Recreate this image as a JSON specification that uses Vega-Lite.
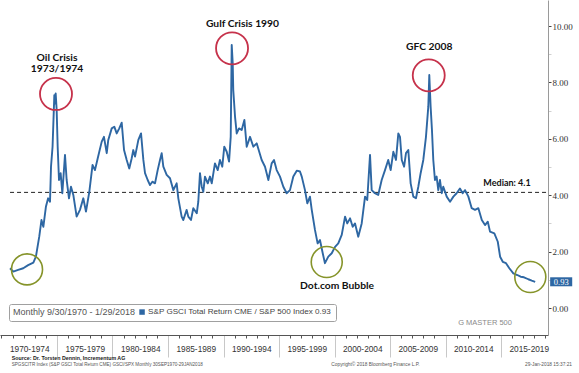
{
  "$schema": "https://vega.github.io/schema/vega-lite/v6.json",
  "width": 548,
  "height": 335,
  "autosize": {"type": "none"},
  "padding": {"left": 0, "top": 0, "right": 31, "bottom": 38},
  "background": "#ffffff",
  "config": {"view": {"stroke": null}, "font": "Liberation Sans"},
  "datasets": {
    "series": [
      {"t":1970.77,"v":1.41},{"t":1971.06,"v":1.29},{"t":1971.5,"v":1.35},{"t":1971.96,"v":1.41},{"t":1972.4,"v":1.52},{"t":1972.87,"v":1.61},
      {"t":1973.1,"v":1.82},{"t":1973.4,"v":2.53},{"t":1973.6,"v":3.12},{"t":1973.77,"v":2.88},{"t":1974.0,"v":3.59},{"t":1974.2,"v":3.89},
      {"t":1974.37,"v":3.77},{"t":1974.46,"v":5.01},{"t":1974.6,"v":5.72},{"t":1974.76,"v":7.55},{"t":1974.82,"v":7.25},{"t":1974.88,"v":7.61},
      {"t":1974.97,"v":7.02},{"t":1975.06,"v":5.72},{"t":1975.18,"v":4.54},{"t":1975.33,"v":4.78},{"t":1975.48,"v":4.07},{"t":1975.72,"v":5.43},
      {"t":1975.87,"v":4.54},{"t":1976.08,"v":3.89},{"t":1976.26,"v":4.30},{"t":1976.47,"v":4.01},{"t":1976.77,"v":3.24},{"t":1977.07,"v":3.48},
      {"t":1977.37,"v":3.89},{"t":1977.61,"v":3.42},{"t":1977.91,"v":4.12},{"t":1978.2,"v":5.07},{"t":1978.42,"v":4.89},{"t":1978.67,"v":5.31},
      {"t":1978.81,"v":5.54},{"t":1979.03,"v":5.90},{"t":1979.23,"v":6.07},{"t":1979.48,"v":5.49},{"t":1979.62,"v":5.96},{"t":1979.93,"v":6.37},
      {"t":1980.16,"v":6.43},{"t":1980.38,"v":6.19},{"t":1980.61,"v":6.37},{"t":1980.83,"v":6.57},{"t":1981.04,"v":5.60},{"t":1981.28,"v":5.25},
      {"t":1981.51,"v":4.95},{"t":1981.73,"v":5.31},{"t":1981.87,"v":5.60},{"t":1982.03,"v":5.37},{"t":1982.33,"v":5.96},{"t":1982.57,"v":6.19},
      {"t":1982.78,"v":5.25},{"t":1982.93,"v":4.78},{"t":1983.17,"v":4.54},{"t":1983.38,"v":4.36},{"t":1983.59,"v":4.48},{"t":1983.83,"v":4.42},
      {"t":1984.07,"v":4.89},{"t":1984.28,"v":5.25},{"t":1984.43,"v":5.49},{"t":1984.58,"v":5.01},{"t":1984.88,"v":4.72},{"t":1985.18,"v":4.60},
      {"t":1985.48,"v":4.18},{"t":1985.78,"v":4.42},{"t":1985.93,"v":3.89},{"t":1986.23,"v":3.24},{"t":1986.38,"v":3.12},{"t":1986.68,"v":3.48},
      {"t":1986.83,"v":3.24},{"t":1987.07,"v":3.12},{"t":1987.28,"v":3.54},{"t":1987.59,"v":3.36},{"t":1987.73,"v":3.77},{"t":1987.88,"v":4.78},
      {"t":1988.04,"v":4.30},{"t":1988.18,"v":4.12},{"t":1988.33,"v":4.66},{"t":1988.58,"v":4.42},{"t":1988.78,"v":4.66},{"t":1988.94,"v":4.42},
      {"t":1989.23,"v":5.13},{"t":1989.48,"v":4.89},{"t":1989.68,"v":5.25},{"t":1989.89,"v":5.01},{"t":1990.07,"v":5.72},{"t":1990.29,"v":5.54},
      {"t":1990.5,"v":5.19},{"t":1990.65,"v":6.07},{"t":1990.74,"v":9.33},{"t":1990.83,"v":8.68},{"t":1990.88,"v":7.73},{"t":1991.04,"v":6.78},
      {"t":1991.19,"v":6.19},{"t":1991.4,"v":6.37},{"t":1991.64,"v":6.31},{"t":1991.88,"v":6.67},{"t":1992.09,"v":5.72},{"t":1992.39,"v":6.07},
      {"t":1992.69,"v":5.72},{"t":1992.99,"v":5.84},{"t":1993.44,"v":5.25},{"t":1993.74,"v":5.01},{"t":1994.04,"v":4.54},{"t":1994.34,"v":5.13},
      {"t":1994.55,"v":5.25},{"t":1994.79,"v":4.89},{"t":1995.09,"v":4.66},{"t":1995.39,"v":4.30},{"t":1995.69,"v":4.07},{"t":1995.99,"v":4.18},
      {"t":1996.29,"v":4.66},{"t":1996.6,"v":4.87},{"t":1996.89,"v":4.84},{"t":1997.05,"v":4.66},{"t":1997.34,"v":4.18},{"t":1997.55,"v":3.71},
      {"t":1997.79,"v":3.95},{"t":1997.95,"v":3.48},{"t":1998.24,"v":2.77},{"t":1998.48,"v":2.29},{"t":1998.69,"v":2.41},{"t":1998.94,"v":1.94},
      {"t":1999.14,"v":1.59},{"t":1999.44,"v":1.82},{"t":1999.75,"v":1.94},{"t":2000.05,"v":2.17},{"t":2000.34,"v":2.29},{"t":2000.65,"v":2.59},
      {"t":2000.95,"v":3.24},{"t":2001.15,"v":3.00},{"t":2001.4,"v":3.18},{"t":2001.64,"v":2.88},{"t":2001.85,"v":3.00},{"t":2002.14,"v":2.53},
      {"t":2002.45,"v":3.00},{"t":2002.75,"v":3.95},{"t":2002.95,"v":3.83},{"t":2003.2,"v":5.43},{"t":2003.35,"v":4.18},{"t":2003.64,"v":4.07},
      {"t":2003.94,"v":4.01},{"t":2004.25,"v":4.54},{"t":2004.55,"v":4.89},{"t":2004.84,"v":5.25},{"t":2005.06,"v":4.89},{"t":2005.3,"v":5.54},
      {"t":2005.54,"v":5.25},{"t":2005.75,"v":6.19},{"t":2005.9,"v":6.07},{"t":2006.06,"v":5.25},{"t":2006.27,"v":5.01},{"t":2006.44,"v":5.49},
      {"t":2006.65,"v":5.60},{"t":2006.86,"v":4.42},{"t":2007.1,"v":3.95},{"t":2007.34,"v":3.89},{"t":2007.55,"v":4.30},{"t":2007.76,"v":4.78},
      {"t":2008.0,"v":5.25},{"t":2008.24,"v":6.07},{"t":2008.45,"v":7.14},{"t":2008.54,"v":8.26},{"t":2008.66,"v":7.14},{"t":2008.78,"v":6.31},
      {"t":2008.9,"v":5.25},{"t":2009.05,"v":4.54},{"t":2009.2,"v":4.66},{"t":2009.35,"v":4.18},{"t":2009.5,"v":4.54},{"t":2009.66,"v":4.07},
      {"t":2009.8,"v":4.30},{"t":2010.11,"v":3.95},{"t":2010.41,"v":3.77},{"t":2010.71,"v":3.95},{"t":2011.0,"v":4.07},{"t":2011.3,"v":4.24},
      {"t":2011.55,"v":4.07},{"t":2011.76,"v":4.18},{"t":2012.06,"v":3.95},{"t":2012.36,"v":3.54},{"t":2012.66,"v":3.48},{"t":2012.96,"v":3.54},
      {"t":2013.27,"v":3.12},{"t":2013.56,"v":2.94},{"t":2013.81,"v":3.06},{"t":2014.01,"v":2.71},{"t":2014.4,"v":2.65},{"t":2014.71,"v":2.35},
      {"t":2014.92,"v":1.82},{"t":2015.16,"v":1.64},{"t":2015.45,"v":1.59},{"t":2015.75,"v":1.41},{"t":2016.11,"v":1.23},{"t":2016.47,"v":1.17},
      {"t":2016.77,"v":1.11},{"t":2017.07,"v":1.09},{"t":2017.46,"v":1.02},{"t":2017.77,"v":0.97},{"t":2018.08,"v":0.93}
    ],
    "median": [{"t": 1970.77, "t2": 2019.234, "v": 4.1}],
    "circles": [
      {"t": 1974.91, "v": 7.59, "kind": "peak"},
      {"t": 1990.77, "v": 9.21, "kind": "peak"},
      {"t": 2008.49, "v": 8.25, "kind": "peak"},
      {"t": 1972.30, "v": 1.37, "kind": "low"},
      {"t": 1999.30, "v": 1.63, "kind": "low"},
      {"t": 2017.64, "v": 1.10, "kind": "low"}
    ],
    "notes": [
      {"t": 1975.0, "v": 8.88, "label": "Oil Crisis\n1973/1974", "kind": "ann"},
      {"t": 1991.71, "v": 10.07, "label": "Gulf Crisis 1990", "kind": "ann"},
      {"t": 2008.53, "v": 9.24, "label": "GFC 2008", "kind": "ann"},
      {"t": 2000.23, "v": 0.78, "label": "Dot.com Bubble", "kind": "ann"},
      {"t": 2015.54, "v": 4.44, "label": "Median: 4.1", "kind": "median"},
      {"t": 2013.56, "v": -0.54, "label": "G MASTER 500", "kind": "gm"},
      {"t": 1970.92, "v": -1.78, "label": "Source: Dr. Torsten Dennin, Incrementum AG", "kind": "src"},
      {"t": 1970.92, "v": -2.02, "label": "SPGSCITR Index (S&P GSCI Total Return CME) GSCI/SPX  Monthly 30SEP1970-29JAN2018", "kind": "small"},
      {"t": 2003.69, "v": -2.02, "label": "Copyright\u00a9 2018 Bloomberg Finance L.P.", "kind": "copy"},
      {"t": 2021.40, "v": -2.02, "label": "29-Jan-2018 15:37:21", "kind": "date"}
    ],
    "last": [{"t": 2018.08, "v": 0.93}]
  },
  "encoding": {
    "x": {
      "field": "t", "type": "quantitative",
      "scale": {"domain": [1969.865, 2019.234], "nice": false, "zero": false},
      "axis": {
        "title": null, "grid": false,
        "values": [1970,1971,1972,1973,1974,1975,1976,1977,1978,1979,1980,1981,1982,1983,1984,1985,1986,1987,1988,1989,1990,1991,1992,1993,1994,1995,1996,1997,1998,1999,2000,2001,2002,2003,2004,2005,2006,2007,2008,2009,2010,2011,2012,2013,2014,2015,2016,2017,2018,2019,1972.5,1977.5,1982.5,1987.5,1992.5,1997.5,2002.5,2007.5,2012.5,2017.5],
        "labelExpr": "datum.value % 5 == 2.5 ? (datum.value - 2.5) + '-' + (datum.value + 1.5) : ''",
        "labelOverlap": false, "labelFlush": false, "labelBound": false,
        "labelFont": "Liberation Sans", "labelFontSize": 8.3, "labelColor": "#333",
        "labelPadding": 6,
        "domainColor": "#555", "domainWidth": 1,
        "tickColor": {"condition": {"test": "datum.value % 5 == 0 && datum.value > 1970", "value": "#c8c8c8"}, "value": "#555"},
        "tickOpacity": {"condition": {"test": "datum.value % 1 != 0", "value": 0}, "value": 1},
        "tickSize": {"condition": {"test": "datum.value % 5 == 0 && datum.value > 1970", "value": 22}, "value": 3}
      }
    },
    "y": {
      "field": "v", "type": "quantitative",
      "scale": {"domain": [-0.957, 10.922], "nice": false, "zero": false},
      "axis": {
        "orient": "right", "title": null, "grid": false,
        "values": [0,1,2,3,4,5,6,7,8,9,10],
        "labelExpr": "datum.value % 2 == 0 ? format(datum.value, '.2f') : ''",
        "labelFont": "Liberation Serif", "labelFontSize": 9, "labelColor": "#333",
        "labelPadding": 1, "labelOverlap": false, "labelFlush": false, "labelBound": false,
        "domainColor": "#9a9a9a",
        "tickSize": 3,
        "tickColor": {"condition": {"test": "datum.value % 2 == 1", "value": "#d0d0d0"}, "value": "#444"}
      }
    }
  },
  "layer": [
    {
      "data": {"name": "median"},
      "mark": {"type": "rule", "strokeDash": [4, 3], "color": "#222", "strokeWidth": 1},
      "encoding": {"x2": {"field": "t2"}}
    },
    {
      "data": {"name": "series"},
      "mark": {"type": "line", "strokeWidth": 1.9, "strokeJoin": "round"},
      "encoding": {
        "color": {
          "datum": "S&P GSCI Total Return CME / S&P 500 Index 0.93", "type": "nominal",
          "scale": {"range": ["#2e67a3"]},
          "legend": {
            "orient": "none", "legendX": 9, "legendY": 304,
            "title": "Monthly 9/30/1970 - 1/29/2018", "titleOrient": "left",
            "titleFontWeight": "normal", "titleFontSize": 9, "titleColor": "#555", "titleFont": "Liberation Sans",
            "titlePadding": 2, "titleLimit": 300,
            "labelFontSize": 8.1, "labelColor": "#444", "labelFont": "Liberation Sans", "labelOffset": 2, "labelLimit": 400,
            "symbolType": "square", "symbolSize": 30, "symbolStrokeWidth": 0, "symbolFillColor": "#2e67a3",
            "strokeColor": "#a0a0a0", "fillColor": "#ffffff", "padding": 4, "cornerRadius": 2,
            "encode": {"symbols": {"update": {"fill": {"value": "#2e67a3"}, "strokeWidth": {"value": 0}}}}
          }
        }
      }
    },
    {
      "data": {"name": "circles"},
      "transform": [{"filter": "datum.kind == 'peak'"}],
      "mark": {"type": "point", "shape": "circle", "filled": false, "size": 1024, "strokeWidth": 1.8, "color": "#c6324b", "opacity": 1}
    },
    {
      "data": {"name": "circles"},
      "transform": [{"filter": "datum.kind == 'low'"}],
      "mark": {"type": "point", "shape": "circle", "filled": false, "size": 961, "strokeWidth": 1.6, "color": "#86942a", "opacity": 1}
    },
    {
      "data": {"name": "notes"},
      "transform": [{"filter": "datum.kind == 'ann'"}],
      "mark": {"type": "text", "font": "Lato", "fontWeight": "bold", "fontSize": 10.3, "color": "#111", "align": "center", "baseline": "middle", "lineBreak": "\n", "lineHeight": 11.6},
      "encoding": {"text": {"field": "label"}}
    },
    {
      "data": {"name": "notes"},
      "transform": [{"filter": "datum.kind == 'median'"}],
      "mark": {"type": "text", "font": "Lato", "fontWeight": "bold", "fontSize": 9, "color": "#111", "align": "center", "baseline": "middle"},
      "encoding": {"text": {"field": "label"}}
    },
    {
      "data": {"name": "notes"},
      "transform": [{"filter": "datum.kind == 'gm'"}],
      "mark": {"type": "text", "font": "Liberation Sans", "fontSize": 7.5, "color": "#8a8a8a", "align": "center", "baseline": "middle"},
      "encoding": {"text": {"field": "label"}}
    },
    {
      "data": {"name": "notes"},
      "transform": [{"filter": "datum.kind == 'src'"}],
      "mark": {"type": "text", "font": "Liberation Sans", "fontWeight": "bold", "fontSize": 5.3, "color": "#1a1a1a", "align": "left", "baseline": "middle"},
      "encoding": {"text": {"field": "label"}}
    },
    {
      "data": {"name": "notes"},
      "transform": [{"filter": "datum.kind == 'small'"}],
      "mark": {"type": "text", "font": "Liberation Sans", "fontSize": 4.6, "color": "#555", "align": "left", "baseline": "middle"},
      "encoding": {"text": {"field": "label"}}
    },
    {
      "data": {"name": "notes"},
      "transform": [{"filter": "datum.kind == 'copy'"}],
      "mark": {"type": "text", "font": "Liberation Sans", "fontSize": 4.8, "color": "#555", "align": "center", "baseline": "middle"},
      "encoding": {"text": {"field": "label"}}
    },
    {
      "data": {"name": "notes"},
      "transform": [{"filter": "datum.kind == 'date'"}],
      "mark": {"type": "text", "font": "Liberation Sans", "fontSize": 4.8, "color": "#555", "align": "right", "baseline": "middle"},
      "encoding": {"text": {"field": "label"}}
    },
    {
      "data": {"name": "last"},
      "mark": {"type": "point", "shape": "M-2.45,-1L2.45,-1L2.45,1L-2.45,1Z", "size": 81, "filled": true, "color": "#2e67a3", "opacity": 1, "xOffset": 26}
    },
    {
      "data": {"name": "last"},
      "mark": {"type": "text", "font": "Liberation Serif", "fontSize": 8.5, "color": "#ffffff", "align": "center", "baseline": "middle", "xOffset": 26},
      "encoding": {"text": {"field": "v", "type": "quantitative", "format": ".2f"}}
    }
  ]
}
